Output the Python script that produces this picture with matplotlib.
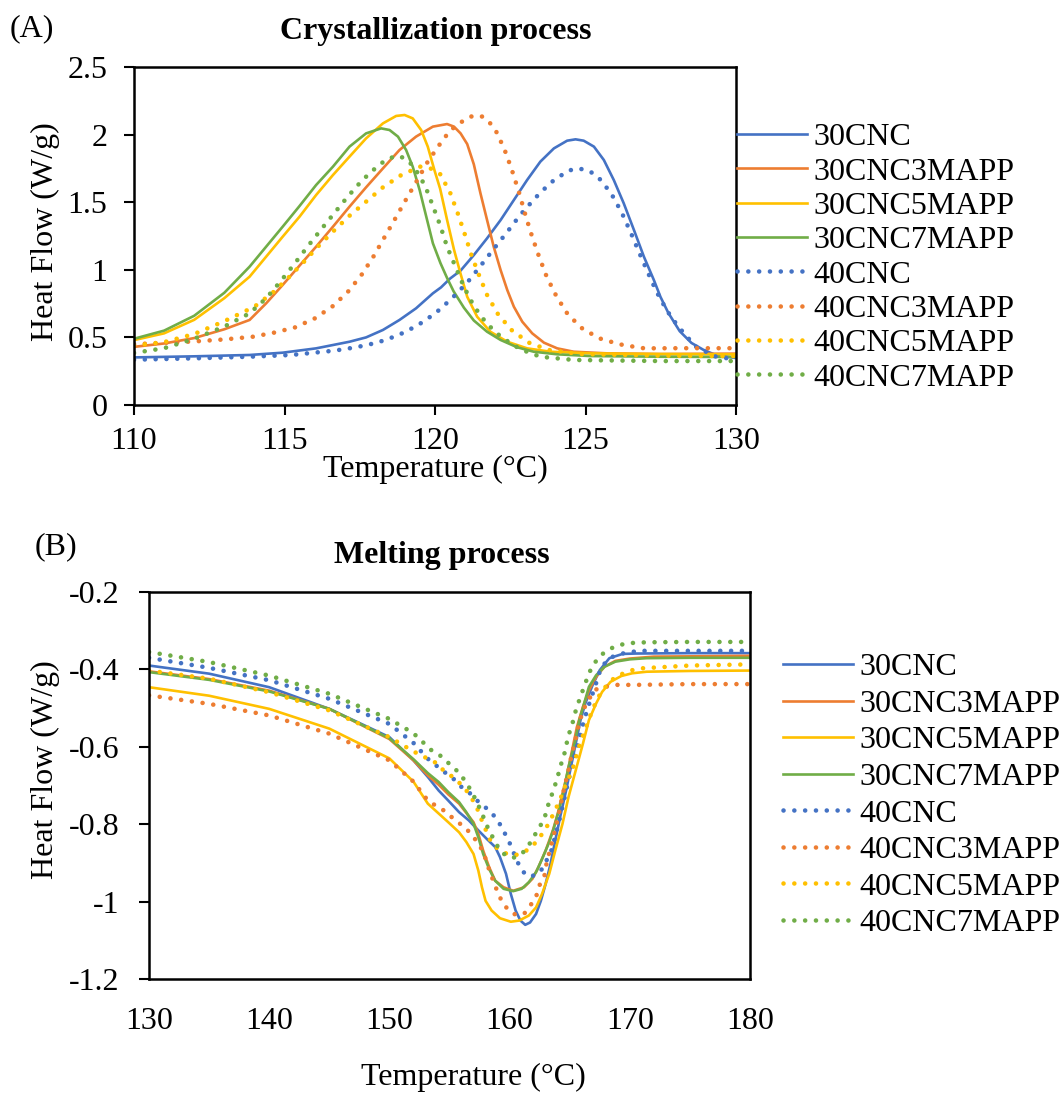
import numpy as np
import matplotlib
matplotlib.use("Agg")
import matplotlib.pyplot as plt
from matplotlib.ticker import FuncFormatter

plt.rcParams['font.family'] = ['Liberation Serif', 'DejaVu Serif']
plt.rcParams['axes.unicode_minus'] = False

labels = ["30CNC", "30CNC3MAPP", "30CNC5MAPP", "30CNC7MAPP",
          "40CNC", "40CNC3MAPP", "40CNC5MAPP", "40CNC7MAPP"]
colors = ["#4472C4", "#ED7D31", "#FFC000", "#70AD47"] * 2

# ---- (A) crystallization, temperature (C) / heat flow (W/g)
cr_30cnc_t = [110, 112, 113.84, 114.94, 116.05, 117.16, 117.71, 118.27, 118.82, 119.37, 119.93, 120.2, 120.5,
              120.85, 121.29, 121.73, 122.18, 122.62, 123.06, 123.5, 123.95, 124.39, 124.67, 124.94, 125.28,
              125.61, 125.94, 126.27, 126.61, 126.94, 127.27, 127.49, 127.75, 128.13, 128.52, 128.91, 129.3, 130]
cr_30cnc_y = [0.352, 0.360, 0.370, 0.387, 0.419, 0.468, 0.500, 0.555, 0.629, 0.715, 0.826, 0.87, 0.935,
              0.994, 1.109, 1.233, 1.368, 1.516, 1.664, 1.800, 1.898, 1.955, 1.965, 1.955, 1.911,
              1.812, 1.664, 1.492, 1.294, 1.097, 0.925, 0.800, 0.682, 0.546, 0.459, 0.409, 0.372, 0.347]

cr_30cnc3_t = [110, 111, 112, 113, 113.84, 114.39, 114.94, 115.5, 116.05, 116.61, 117.16, 117.71, 118.27,
               118.82, 119.37, 119.93, 120.4, 120.63, 120.85, 121.07, 121.29, 121.51, 121.73, 121.95, 122.18,
               122.4, 122.62, 122.9, 123.23, 123.62, 124.06, 124.61, 125.72, 127.49, 130]
cr_30cnc3_y = [0.430, 0.455, 0.495, 0.560, 0.629, 0.752, 0.888, 1.031, 1.171, 1.319, 1.467, 1.610, 1.750,
               1.886, 1.985, 2.059, 2.078, 2.059, 2.009, 1.930, 1.780, 1.566, 1.368, 1.171, 0.998,
               0.851, 0.727, 0.616, 0.530, 0.461, 0.419, 0.394, 0.382, 0.377, 0.380]

cr_30cnc5_t = [110, 111, 112, 113, 113.84, 114.39, 114.94, 115.5, 116.05, 116.61, 117.16, 117.71, 118.27,
               118.71, 118.99, 119.26, 119.54, 119.76, 119.98, 120.17, 120.4, 120.63, 120.85, 121.07, 121.4,
               121.84, 122.4, 123.06, 123.84, 125.17, 127.49, 130]
cr_30cnc5_y = [0.480, 0.530, 0.630, 0.790, 0.949, 1.097, 1.245, 1.393, 1.553, 1.701, 1.837, 1.972, 2.083,
               2.138, 2.145, 2.120, 2.034, 1.911, 1.738, 1.600, 1.370, 1.150, 0.970, 0.801, 0.653,
               0.542, 0.468, 0.419, 0.394, 0.382, 0.377, 0.375]

cr_30cnc7_t = [110, 111, 112, 113, 113.84, 114.39, 114.94, 115.5, 116.05, 116.61, 117.16, 117.71, 118.21,
               118.49, 118.77, 119.04, 119.26, 119.49, 119.71, 119.93, 120.18, 120.4, 120.62, 120.96, 121.29,
               121.73, 122.18, 122.73, 123.28, 124.06, 125.17, 127.49, 130]
cr_30cnc7_y = [0.490, 0.550, 0.660, 0.830, 1.023, 1.171, 1.319, 1.472, 1.627, 1.763, 1.911, 2.009, 2.046,
               2.034, 1.985, 1.886, 1.763, 1.590, 1.393, 1.196, 1.050, 0.940, 0.840, 0.720, 0.625,
               0.542, 0.481, 0.427, 0.394, 0.375, 0.362, 0.357, 0.355]

cr_40cnc_t = [110, 112, 113.84, 115.22, 116.66, 117.38, 118.08, 118.77, 119.41, 120.01, 120.54, 121.07,
              121.51, 121.95, 122.4, 122.84, 123.32, 123.84, 124.42, 124.76, 125.11, 125.41, 125.85, 126.2,
              126.5, 126.78, 127.07, 127.36, 127.7, 128.07, 128.65, 129.3, 130]
cr_40cnc_y = [0.335, 0.345, 0.357, 0.370, 0.402, 0.427, 0.461, 0.515, 0.587, 0.678, 0.784, 0.905,
              1.028, 1.154, 1.280, 1.408, 1.529, 1.644, 1.733, 1.750, 1.733, 1.689, 1.566, 1.425,
              1.277, 1.129, 0.981, 0.838, 0.700, 0.583, 0.434, 0.360, 0.335]

cr_40cnc3_t = [110, 111, 112, 113, 113.95, 114.65, 115.35, 116.01, 116.61, 117.13, 117.58, 117.96, 118.32,
               118.69, 119.04, 119.4, 119.76, 120.17, 120.5, 120.85, 121.26, 121.59, 121.87, 122.07, 122.36,
               122.59, 122.81, 123.01, 123.22, 123.45, 123.71, 124.03, 124.41, 124.92, 125.54, 126.24,
               126.96, 128, 130]
cr_40cnc3_y = [0.450, 0.460, 0.470, 0.485, 0.505, 0.535, 0.574, 0.641, 0.732, 0.843, 0.969, 1.100, 1.240,
               1.383, 1.521, 1.659, 1.800, 1.932, 2.030, 2.090, 2.140, 2.133, 2.076, 2.009, 1.861,
               1.714, 1.558, 1.400, 1.250, 1.102, 0.949, 0.806, 0.671, 0.560, 0.486, 0.444,
               0.419, 0.420, 0.420]

cr_40cnc5_t = [110, 111, 112, 113, 114.0, 114.61, 115.14, 115.63, 116.13, 116.64, 117.16, 117.71, 118.27,
               118.88, 119.51, 119.85, 120.18, 120.51, 120.76, 120.99, 121.21, 121.46, 121.73, 122.09,
               122.54, 123.12, 123.78, 124.83, 127.49, 130]
cr_40cnc5_y = [0.440, 0.465, 0.525, 0.620, 0.727, 0.831, 0.944, 1.055, 1.176, 1.289, 1.400, 1.504, 1.610,
               1.701, 1.763, 1.750, 1.706, 1.566, 1.415, 1.263, 1.109, 0.962, 0.814, 0.673,
               0.555, 0.461, 0.407, 0.377, 0.365, 0.362]

cr_40cnc7_t = [110, 111, 112, 113, 113.84, 114.39, 114.86, 115.31, 115.74, 116.2, 116.65, 117.1, 117.58,
               118.11, 118.4, 118.74, 119.0, 119.3, 119.67, 119.93, 120.18, 120.4, 120.68, 120.96, 121.29,
               121.71, 122.21, 122.84, 123.5, 124.61, 127.49, 130]
cr_40cnc7_y = [0.385, 0.420, 0.490, 0.580, 0.678, 0.789, 0.912, 1.038, 1.164, 1.294, 1.418, 1.541, 1.662,
               1.770, 1.817, 1.844, 1.825, 1.763, 1.622, 1.472, 1.324, 1.171, 1.023, 0.875, 0.732,
               0.604, 0.500, 0.412, 0.357, 0.333, 0.325, 0.325]

# ---- (B) melting
me_30cnc_t = [130, 135, 140, 145, 150, 152, 153.2, 154.1, 154.9, 155.8, 156.6, 157.4, 158.1, 158.8, 159.2,
              159.7, 160.1, 160.5, 160.9, 161.3, 161.7, 162.2, 162.6, 163.0, 163.4, 163.8, 164.2, 164.7,
              165.1, 165.5, 165.9, 166.3, 166.9, 167.5, 168.3, 169.4, 170.5, 175, 180]
me_30cnc_y = [-0.390, -0.411, -0.446, -0.502, -0.575, -0.635, -0.678, -0.713, -0.739, -0.769, -0.790, -0.816,
              -0.838, -0.859, -0.885, -0.928, -0.980, -1.023, -1.049, -1.060, -1.054, -1.032, -0.998, -0.954,
              -0.903, -0.842, -0.782, -0.713, -0.652, -0.592, -0.531, -0.488, -0.441, -0.402, -0.371,
              -0.360, -0.359, -0.358, -0.358]

me_30cnc3_t = [130, 135, 140, 145, 150, 152, 153.2, 154.1, 154.9, 155.8, 156.4, 157.0, 157.4, 157.8, 158.3,
               158.8, 159.5, 160.3, 161.2, 161.9, 162.4, 163.0, 163.6, 164.0, 164.4, 164.8, 165.2, 165.6,
               166.1, 166.6, 167.2, 167.9, 168.8, 170, 172, 180]
me_30cnc3_y = [-0.405, -0.425, -0.455, -0.502, -0.580, -0.635, -0.674, -0.698, -0.723, -0.747, -0.771, -0.795,
               -0.825, -0.868, -0.911, -0.946, -0.963, -0.972, -0.963, -0.941, -0.911, -0.868, -0.816,
               -0.773, -0.721, -0.669, -0.609, -0.549, -0.497, -0.454, -0.419, -0.393, -0.378, -0.372,
               -0.367, -0.365]

me_30cnc5_t = [130, 135, 140, 145, 150, 152, 153.2, 154.9, 155.8, 156.4, 157.0, 157.4, 157.7, 158.0, 158.5,
               159.2, 160.1, 160.8, 161.6, 162.2, 162.7, 163.3, 163.8, 164.4, 164.9, 165.5, 166.1, 166.6,
               167.2, 167.7, 168.4, 169.3, 170.2, 171.4, 175, 180]
me_30cnc5_y = [-0.446, -0.468, -0.502, -0.553, -0.630, -0.690, -0.747, -0.795, -0.821, -0.846, -0.877, -0.920,
               -0.963, -0.998, -1.023, -1.043, -1.052, -1.049, -1.036, -1.015, -0.980, -0.928, -0.868,
               -0.799, -0.730, -0.661, -0.592, -0.531, -0.488, -0.458, -0.432, -0.417, -0.410, -0.406,
               -0.404, -0.403]

me_30cnc7_t = [130, 135, 140, 145, 150, 152, 153.2, 154.1, 154.9, 155.8, 156.4, 157.0, 157.4, 157.8, 158.3,
               158.8, 159.5, 160.3, 161.0, 161.6, 162.2, 162.7, 163.3, 163.7, 164.1, 164.5, 164.9, 165.4,
               165.8, 166.2, 166.6, 167.2, 167.9, 168.8, 170.0, 171.4, 175, 180]
me_30cnc7_y = [-0.407, -0.427, -0.457, -0.502, -0.578, -0.632, -0.668, -0.691, -0.717, -0.743, -0.769, -0.799,
               -0.834, -0.877, -0.916, -0.946, -0.967, -0.973, -0.967, -0.950, -0.924, -0.890, -0.846,
               -0.808, -0.764, -0.713, -0.652, -0.592, -0.531, -0.488, -0.445, -0.415, -0.393, -0.380,
               -0.374, -0.371, -0.370, -0.370]

me_40cnc_t = [130, 135, 140, 145, 150, 152, 153.2, 154.4, 155.5, 156.0, 156.6, 157.3, 157.9, 158.5, 159.0,
              159.4, 159.8, 160.2, 160.5, 160.9, 161.4, 162.1, 162.7, 163.1, 163.5, 164.1, 164.9, 165.2,
              165.8, 166.2, 166.6, 167.1, 167.5, 168.0, 168.6, 169.4, 170.1, 170.9, 175, 180]
me_40cnc_y = [-0.370, -0.396, -0.428, -0.476, -0.541, -0.590, -0.631, -0.661, -0.687, -0.704, -0.717, -0.739,
              -0.754, -0.771, -0.789, -0.812, -0.835, -0.862, -0.887, -0.913, -0.933, -0.933, -0.916,
              -0.892, -0.866, -0.795, -0.687, -0.646, -0.579, -0.531, -0.491, -0.445, -0.406, -0.380,
              -0.367, -0.359, -0.355, -0.352, -0.352, -0.352]

me_40cnc3_t = [130, 135, 140, 145, 150, 152, 153.2, 153.8, 154.5, 155.0, 155.7, 156.3, 156.9, 157.4, 157.8,
               158.1, 158.4, 158.7, 159.0, 159.4, 159.9, 160.5, 161.2, 161.7, 162.2, 162.4, 162.9, 163.0,
               163.9, 164.1, 164.5, 164.7, 164.9, 165.1, 165.3, 165.5, 165.7, 165.9, 166.2, 166.6, 166.9,
               167.3, 168.0, 168.8, 169.7, 170.5, 175, 180]
me_40cnc3_y = [-0.467, -0.489, -0.519, -0.566, -0.635, -0.690, -0.739, -0.751, -0.764, -0.777, -0.795, -0.808,
               -0.830, -0.849, -0.872, -0.898, -0.928, -0.950, -0.976, -1.002, -1.022, -1.034, -1.032,
               -1.011, -0.989, -0.963, -0.933, -0.911, -0.800, -0.773, -0.713, -0.687, -0.661, -0.630,
               -0.605, -0.580, -0.550, -0.527, -0.500, -0.479, -0.458, -0.450, -0.445, -0.440, -0.440,
               -0.440, -0.438, -0.438]

me_40cnc5_t = [130, 135, 140, 145, 150, 152, 154.1, 154.4, 155.1, 155.6, 156.2, 156.7, 157.2, 157.8, 158.5,
               159.1, 159.8, 160.6, 161.4, 162.0, 162.5, 163.0, 163.4, 163.8, 164.2, 164.5, 164.9, 165.3,
               165.6, 165.9, 166.3, 166.9, 167.3, 167.7, 168.3, 168.8, 169.5, 170.2, 171.1, 175, 180]
me_40cnc5_y = [-0.403, -0.424, -0.459, -0.506, -0.575, -0.612, -0.645, -0.658, -0.674, -0.687, -0.704, -0.726,
               -0.751, -0.799, -0.849, -0.866, -0.877, -0.879, -0.868, -0.853, -0.834, -0.812, -0.789,
               -0.763, -0.737, -0.711, -0.682, -0.652, -0.618, -0.587, -0.555, -0.504, -0.477, -0.454,
               -0.435, -0.419, -0.410, -0.402, -0.397, -0.390, -0.387]

me_40cnc7_t = [130, 135, 140, 145, 150, 152, 153.5, 154.2, 154.8, 155.3, 155.9, 156.4, 156.9, 157.3, 157.7,
               158.0, 158.4, 158.8, 159.2, 159.7, 160.3, 161.0, 161.5, 162.0, 162.4, 162.9, 163.1, 163.4,
               163.7, 164.0, 164.2, 164.5, 164.7, 164.9, 165.2, 165.4, 165.7, 166.0, 166.3, 166.6, 167.0,
               167.6, 168.2, 168.8, 169.7, 170.5, 171.4, 175, 180]
me_40cnc7_y = [-0.355, -0.381, -0.416, -0.463, -0.528, -0.565, -0.609, -0.622, -0.639, -0.652, -0.671, -0.693,
               -0.719, -0.745, -0.771, -0.797, -0.822, -0.846, -0.868, -0.881, -0.887, -0.877, -0.859,
               -0.833, -0.812, -0.786, -0.760, -0.734, -0.707, -0.678, -0.652, -0.626, -0.598, -0.570,
               -0.544, -0.517, -0.488, -0.462, -0.436, -0.410, -0.386, -0.363, -0.350, -0.340, -0.333,
               -0.331, -0.330, -0.329, -0.329]

cryst = [(cr_30cnc_t, cr_30cnc_y), (cr_30cnc3_t, cr_30cnc3_y), (cr_30cnc5_t, cr_30cnc5_y),
         (cr_30cnc7_t, cr_30cnc7_y), (cr_40cnc_t, cr_40cnc_y), (cr_40cnc3_t, cr_40cnc3_y),
         (cr_40cnc5_t, cr_40cnc5_y), (cr_40cnc7_t, cr_40cnc7_y)]
melt = [(me_30cnc_t, me_30cnc_y), (me_30cnc3_t, me_30cnc3_y), (me_30cnc5_t, me_30cnc5_y),
        (me_30cnc7_t, me_30cnc7_y), (me_40cnc_t, me_40cnc_y), (me_40cnc3_t, me_40cnc3_y),
        (me_40cnc5_t, me_40cnc5_y), (me_40cnc7_t, me_40cnc7_y)]

W, H = 1063, 1095
FS = 23
fig = plt.figure(figsize=(W / 100, H / 100), dpi=100)


def px(x0, y0, x1, y1):
    # pixel box -> figure fraction rect
    return [x0 / W, 1 - y1 / H, (x1 - x0) / W, (y1 - y0) / H]


def draw(ax, data):
    for i, (t, y) in enumerate(data):
        if i < 4:
            ax.plot(t, y, color=colors[i], lw=1.9, label=labels[i], solid_joinstyle="round")
        else:
            ax.plot(t, y, color=colors[i], lw=3.3, linestyle=(0, (0.01, 2.35)),
                    dash_capstyle="round", label=labels[i])
    for s in ax.spines.values():
        s.set_linewidth(1.8)
    ax.yaxis.set_major_formatter(FuncFormatter(lambda v, p: "%g" % round(v, 2)))
    ax.xaxis.set_major_formatter(FuncFormatter(lambda v, p: "%g" % v))


# ---- top panel
ax1 = fig.add_axes(px(134, 67, 736, 405))
draw(ax1, cryst)
ax1.set_xlim(110, 130)
ax1.set_ylim(0, 2.5)
ax1.set_xticks([110, 115, 120, 125, 130])
ax1.set_yticks([0, 0.5, 1, 1.5, 2, 2.5])
ax1.tick_params(axis="both", direction="out", length=7, width=1.5, labelsize=FS)
ax1.tick_params(axis="y", pad=12)
ax1.tick_params(axis="x", pad=9)
ax1.legend(loc="upper left", bbox_to_anchor=(737 / W, 1 - 123 / H), bbox_transform=fig.transFigure,
           frameon=False, fontsize=FS, handlelength=2.2, handletextpad=0.2, labelspacing=0.155,
           borderpad=0, borderaxespad=0)

fig.text(10 / W, 1 - 29 / H, "(A)", fontsize=FS, va="center", ha="left")
fig.text(436 / W, 1 - 31 / H, "Crystallization process", fontsize=FS, fontweight="bold",
         va="center", ha="center")
fig.text(435 / W, 1 - 469 / H, "Temperature (\u00b0C)", fontsize=FS, va="center", ha="center")
fig.text(45 / W, 1 - 232 / H, "Heat Flow (W/g)", fontsize=FS, va="center", ha="center", rotation=90)

# ---- bottom panel
ax2 = fig.add_axes(px(149, 592, 750, 979))
draw(ax2, melt)
ax2.set_xlim(130, 180)
ax2.set_ylim(-1.2, -0.2)
ax2.set_xticks([130, 140, 150, 160, 170, 180])
ax2.set_yticks([-1.2, -1.0, -0.8, -0.6, -0.4, -0.2])
ax2.tick_params(axis="y", direction="out", length=7, width=1.5, labelsize=FS, pad=14)
ax2.tick_params(axis="x", length=0, labelsize=FS, pad=20)
ax2.legend(loc="upper left", bbox_to_anchor=(783 / W, 1 - 653 / H), bbox_transform=fig.transFigure,
           frameon=False, fontsize=FS, handlelength=2.2, handletextpad=0.2, labelspacing=0.225,
           borderpad=0, borderaxespad=0)

fig.text(35 / W, 1 - 547 / H, "(B)", fontsize=FS, va="center", ha="left")
fig.text(442 / W, 1 - 555 / H, "Melting process", fontsize=FS, fontweight="bold",
         va="center", ha="center")
fig.text(473 / W, 1 - 1077 / H, "Temperature (\u00b0C)", fontsize=FS, va="center", ha="center")
fig.text(45 / W, 1 - 770 / H, "Heat Flow (W/g)", fontsize=FS, va="center", ha="center", rotation=90)

fig.savefig("out.png", dpi=100)
